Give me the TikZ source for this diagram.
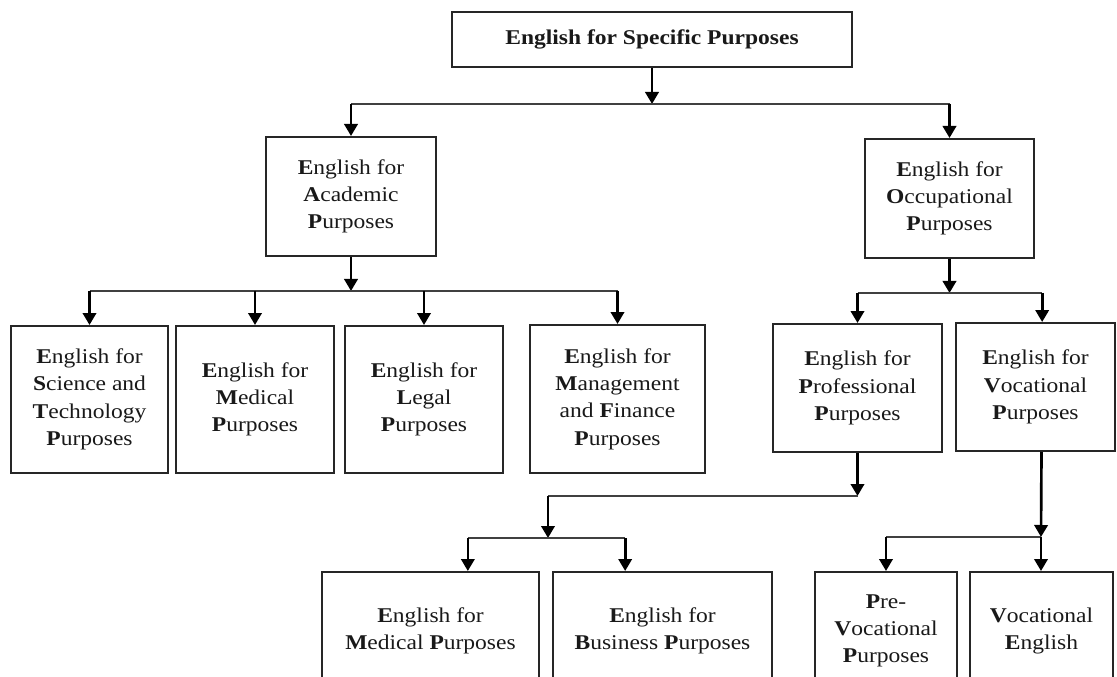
\documentclass[tikz,border=0pt]{standalone}
\usepackage{fontspec}
\setmainfont{Liberation Serif}[FakeStretch=1.12]
\usetikzlibrary{arrows.meta}
\tikzset{
  box/.style={draw=black!85, line width=1.5pt, inner sep=0pt, align=center,
    font=\fontsize{15.75pt}{20.5pt}\selectfont, text=black!90},
  bus/.style={draw=black!75, line width=1.1pt},
  arr/.style={draw=black, line width=2pt, -{Triangle[length=9pt,width=10pt]}},
  sz/.style 2 args={minimum width=#1, minimum height=#2},
}
\newcommand{\B}[1]{\textbf{#1}}
\begin{document}
\begin{tikzpicture}[x=0.75pt,y=-0.75pt]
\useasboundingbox (0,0) rectangle (1117,677);
\clip (0,0) rectangle (1117,677);
\fill[white] (0,0) rectangle (1117,677);

% boxes
\node[box, sz={300pt}{41.25pt}] (top) at (652,39.5) {\textbf{English for Specific Purposes}};
\node[box, sz={127.5pt}{89.25pt}] (aca) at (351,196.5) {\B{E}nglish for\\\B{A}cademic\\\B{P}urposes};
\node[box, sz={126.75pt}{89.25pt}] (occ) at (949.5,198.5) {\B{E}nglish for\\\B{O}ccupational\\\B{P}urposes};

\node[box, sz={117.75pt}{110.25pt}] (sci) at (89.5,399.5) {\B{E}nglish for\\\B{S}cience and\\\B{T}echnology\\\B{P}urposes};
\node[box, sz={118.5pt}{110.25pt}] (med) at (255,399.5) {\B{E}nglish for\\\B{M}edical\\\B{P}urposes};
\node[box, sz={118.5pt}{110.25pt}] (leg) at (424,399.5) {\B{E}nglish for\\\B{L}egal\\\B{P}urposes};
\node[box, sz={131.25pt}{111pt}] (man) at (617.5,399) {\B{E}nglish for\\\B{M}anagement\\and \B{F}inance\\\B{P}urposes};

\node[box, sz={126.75pt}{96pt}] (pro) at (857.5,388) {\B{E}nglish for\\\B{P}rofessional\\\B{P}urposes};
\node[box, sz={119.25pt}{96pt}] (voc) at (1035.5,387) {\B{E}nglish for\\\B{V}ocational\\\B{P}urposes};

\node[box, sz={162.75pt}{88.5pt}] (emp) at (430.5,631) {\B{E}nglish for\\\B{M}edical \B{P}urposes};
\node[box, sz={164.25pt}{88.5pt}] (ebp) at (662.5,631) {\B{E}nglish for\\\B{B}usiness \B{P}urposes};
\node[box, sz={106.5pt}{88.5pt}] (pre) at (886,631) {\B{P}re-\\\B{V}ocational\\\B{P}urposes};
\node[box, sz={107.25pt}{88.5pt}] (ve) at (1041.5,631) {\B{V}ocational\\\B{E}nglish};

% junction points
\coordinate (j0) at (652,104);
\coordinate (j1) at (351,291);
\coordinate (j2) at (949.5,293);
\coordinate (vin) at ([xshift=5pt]voc.north);
\coordinate (vout) at ([xshift=4.5pt]voc.south);
\coordinate (jp) at (857.5,496);
\coordinate (jq) at (548,496);
\coordinate (jr) at (548,538);
\coordinate (empin) at ([xshift=28pt]emp.north);
\coordinate (ebpin) at ([xshift=-28pt]ebp.north);
\coordinate (js) at (1041,537);

% top level
\draw[arr] (top.south) -- (j0);
\draw[bus] (aca.north |- j0) -- (occ.north |- j0);
\draw[arr] (aca.north |- j0) -- (aca.north);
\draw[arr] (occ.north |- j0) -- (occ.north);

% academic
\draw[arr] (aca.south) -- (j1);
\draw[bus] (sci.north |- j1) -- (man.north |- j1);
\draw[arr] (sci.north |- j1) -- (sci.north);
\draw[arr] (med.north |- j1) -- (med.north);
\draw[arr] (leg.north |- j1) -- (leg.north);
\draw[arr] (man.north |- j1) -- (man.north);

% occupational
\draw[arr] (occ.south) -- (j2);
\draw[bus] (pro.north |- j2) -- (vin |- j2);
\draw[arr] (pro.north |- j2) -- (pro.north);
\draw[arr] (vin |- j2) -- (vin);

% professional
\draw[arr] (pro.south) -- (jp);
\draw[bus] (jp) -- (jq);
\draw[arr] (jq) -- (jr);
\draw[bus] (empin |- jr) -- (ebpin |- jr);
\draw[arr] (empin |- jr) -- (empin);
\draw[arr] (ebpin |- jr) -- (ebpin);

% vocational
\draw[arr] (vout) -- (js);
\draw[bus] (pre.north |- js) -- (js);
\draw[arr] (pre.north |- js) -- (pre.north);
\draw[arr] (js) -- (ve.north -| js);
\end{tikzpicture}
\end{document}
